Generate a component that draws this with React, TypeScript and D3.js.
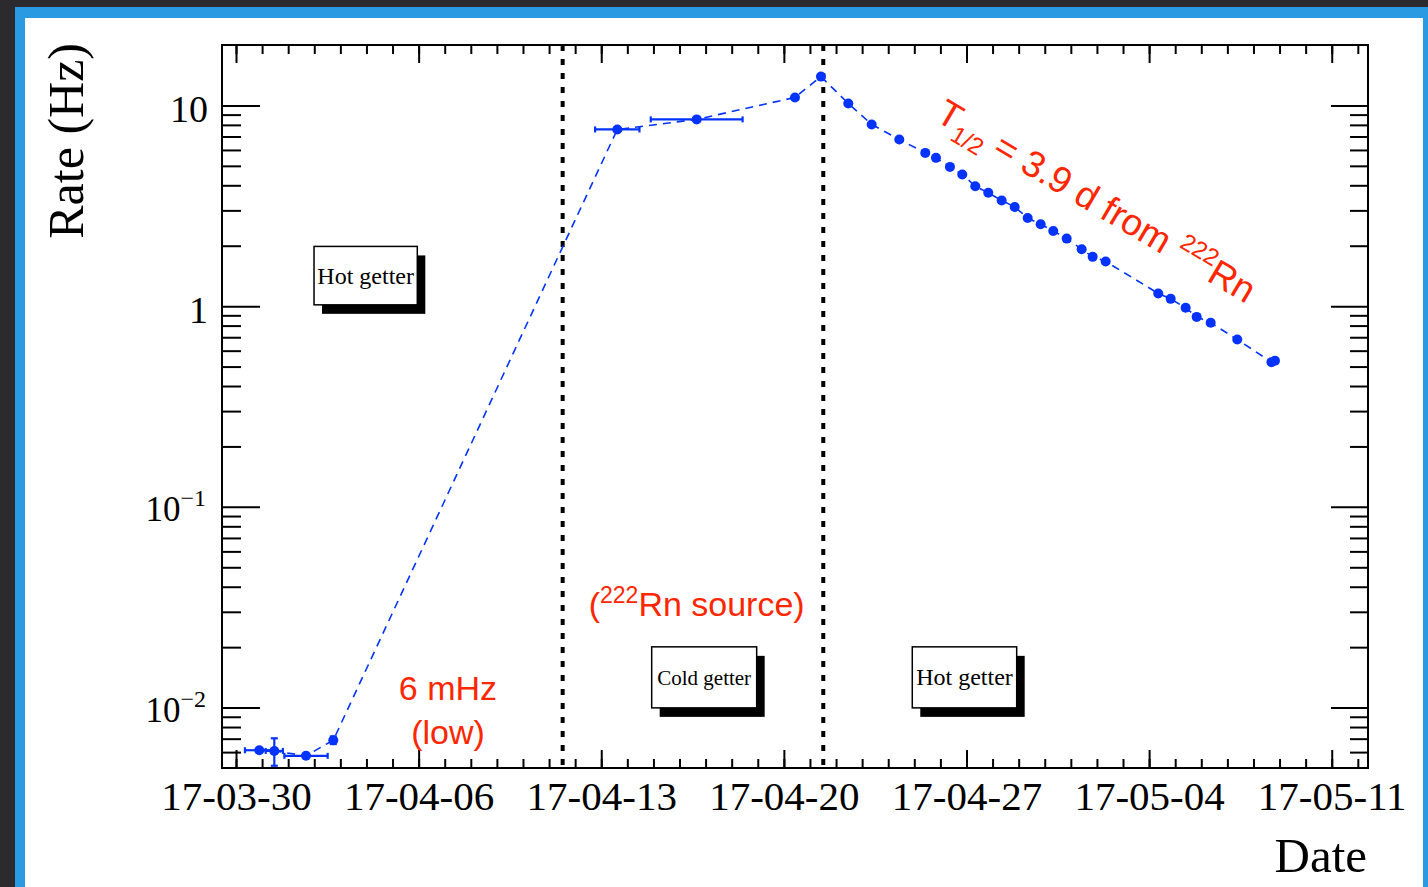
import React, { useEffect, useRef } from 'react';
import * as d3 from 'd3';

const W = 1428;
const H = 887;
const BLUE = '#0433ff';
const RED = '#ff2600';
const SERIF = '"Liberation Serif", "Times New Roman", serif';
const SANS = '"Liberation Sans", Arial, Helvetica, sans-serif';

// low-rate period (hot getter), times in UTC, rates in Hz
const lowTimes = ['2017-03-30T21:26', '2017-03-31T11:14', '2017-04-01T16:24', '2017-04-02T17:30'];
const lowRates = [0.00613, 0.00608, 0.00575, 0.00688];
const lowTimeErr = [0.55, 0.33, 0.83, 0]; // days
const lowRateErr = [0, 0.00095, 0, 0.0003];

// radon source injected (cold getter)
const coldTimes = ['2017-04-13T14:45', '2017-04-16T15:48', '2017-04-20T10:13', '2017-04-21T10:08'];
const coldRates = [7.59, 8.52, 10.96, 13.92];
const coldTimeErr = [0.85, 1.76, 0, 0];

// decay after switching back to hot getter
const decayTimes = [
  '2017-04-22T11:15', '2017-04-23T08:47', '2017-04-24T10:10', '2017-04-25T10:05',
  '2017-04-25T19:55', '2017-04-26T08:48', '2017-04-26T20:07', '2017-04-27T08:05',
  '2017-04-27T20:02', '2017-04-28T08:22', '2017-04-28T20:20', '2017-04-29T08:17',
  '2017-04-29T20:14', '2017-04-30T07:49', '2017-04-30T20:10', '2017-05-01T09:58',
  '2017-05-01T20:04', '2017-05-02T08:02', '2017-05-04T08:25', '2017-05-04T19:50',
  '2017-05-05T09:37', '2017-05-05T19:45', '2017-05-06T08:38', '2017-05-07T09:06',
  '2017-05-08T16:34', '2017-05-08T19:47',
];
const decayRates = [
  10.23, 8.04, 6.77, 5.8, 5.48, 4.94, 4.53, 3.96, 3.67, 3.36, 3.12, 2.75, 2.56,
  2.37, 2.17, 1.92, 1.76, 1.67, 1.157, 1.087, 0.981, 0.884, 0.826, 0.682, 0.526, 0.535,
];

// getter switch times
const boundaryTimes = ['2017-04-11T12:30', '2017-04-21T12:15'];

// axes
const xDomain = ['2017-03-29T11:07', '2017-05-12T09:22'];
const xMajorTicks = ['2017-03-30', '2017-04-06', '2017-04-13', '2017-04-20', '2017-04-27', '2017-05-04', '2017-05-11'];
const yDomain = [0.005, 20];
const yMajorTicks = [0.01, 0.1, 1, 10];
const yTickBase = ['10', '10', '1', '10'];
const yTickExp = ['\u22122', '\u22121', '', ''];

// getter boxes
const boxLabels = ['Hot getter', 'Cold getter', 'Hot getter'];
const boxFrom = ['2017-04-01T23:46', '2017-04-14T22:24', '2017-04-24T22:08'];
const boxTo = ['2017-04-05T22:47', '2017-04-18T22:59', '2017-04-28T22:11'];
const boxTop = [1.984, 0.02007, 0.02007];
const boxBottom = [1.015, 0.009966, 0.009966];
const boxFont = [24, 21, 24];

const parseTime = d3.utcParse('%Y-%m-%dT%H:%M');
const parseDay = d3.utcParse('%Y-%m-%d');
const DAY = 86400000;

type Pt = { t: Date; v: number; te: number; ve: number };

const App = () => {
  const svgRef = useRef<SVGSVGElement>(null);

  useEffect(() => {
    drawChart();
  }, []);

  const drawChart = () => {
    const svg = d3.select(svgRef.current);
    svg.selectAll('*').remove();

    // page background with blue window border
    svg.append('rect').attr('width', W).attr('height', H).attr('fill', '#2b2b2f');
    svg.append('rect').attr('x', 15).attr('y', 7).attr('width', W - 15).attr('height', H - 7).attr('fill', '#2a9be3');
    svg.append('rect').attr('x', 25).attr('y', 18).attr('width', 1398).attr('height', H - 18).attr('fill', '#ffffff');

    const left = 222, right = 1368, top = 45, bottom = 768;

    const x = d3.scaleUtc()
      .domain(xDomain.map(s => parseTime(s) as Date))
      .range([left, right]);
    const y = d3.scaleLog().domain(yDomain).range([bottom, top]);

    const pts: Pt[] = [
      ...lowTimes.map((s, i) => ({ t: parseTime(s) as Date, v: lowRates[i], te: lowTimeErr[i], ve: lowRateErr[i] })),
      ...coldTimes.map((s, i) => ({ t: parseTime(s) as Date, v: coldRates[i], te: coldTimeErr[i], ve: 0 })),
      ...decayTimes.map((s, i) => ({ t: parseTime(s) as Date, v: decayRates[i], te: 0, ve: 0 })),
    ];

    svg.append('defs').append('clipPath').attr('id', 'frame-clip')
      .append('rect').attr('x', left).attr('y', top).attr('width', right - left).attr('height', bottom - top);

    const plot = svg.append('g').attr('clip-path', 'url(#frame-clip)');

    // getter switch lines
    plot.selectAll('line.boundary')
      .data(boundaryTimes)
      .enter()
      .append('line')
      .attr('x1', d => x(parseTime(d) as Date))
      .attr('x2', d => x(parseTime(d) as Date))
      .attr('y1', top)
      .attr('y2', bottom)
      .attr('stroke', '#000')
      .attr('stroke-width', 4)
      .attr('stroke-dasharray', '6,8');

    // dashed connecting line
    const line = d3.line<Pt>().x(d => x(d.t)).y(d => y(d.v));
    plot.append('path')
      .datum(pts)
      .attr('d', line)
      .attr('fill', 'none')
      .attr('stroke', BLUE)
      .attr('stroke-width', 1.6)
      .attr('stroke-dasharray', '8,6');

    // error bars
    const errG = plot.append('g').attr('stroke', BLUE).attr('stroke-width', 2.2);
    pts.filter(d => d.te > 0).forEach(d => {
      const x0 = x(new Date(+d.t - d.te * DAY));
      const x1 = x(new Date(+d.t + d.te * DAY));
      const yy = y(d.v);
      errG.append('line').attr('x1', x0).attr('x2', x1).attr('y1', yy).attr('y2', yy);
      errG.append('line').attr('x1', x0).attr('x2', x0).attr('y1', yy - 3).attr('y2', yy + 3);
      errG.append('line').attr('x1', x1).attr('x2', x1).attr('y1', yy - 3).attr('y2', yy + 3);
    });
    pts.filter(d => d.ve > 0).forEach(d => {
      const xx = x(d.t);
      const y0 = y(d.v - d.ve);
      const y1 = y(d.v + d.ve);
      errG.append('line').attr('x1', xx).attr('x2', xx).attr('y1', y0).attr('y2', y1);
      errG.append('line').attr('x1', xx - 3.5).attr('x2', xx + 3.5).attr('y1', y0).attr('y2', y0);
      errG.append('line').attr('x1', xx - 3.5).attr('x2', xx + 3.5).attr('y1', y1).attr('y2', y1);
    });

    plot.selectAll('circle')
      .data(pts)
      .enter()
      .append('circle')
      .attr('cx', d => x(d.t))
      .attr('cy', d => y(d.v))
      .attr('r', 5)
      .attr('fill', BLUE);

    // axes (ROOT style: ticks inside the frame on all four sides)
    const majorDates = xMajorTicks.map(s => parseDay(s) as Date);
    const minorDates = d3.utcDay.range(x.domain()[0], x.domain()[1]);
    const yMinor: number[] = [];
    for (let e = -3; e <= 1; e++) {
      for (let m = 2; m <= 9; m++) {
        const v = m * Math.pow(10, e);
        if (v > yDomain[0] && v < yDomain[1]) yMinor.push(v);
      }
    }

    const styleAxis = (g: d3.Selection<SVGGElement, unknown, null, undefined>) => {
      g.select('.domain').remove();
      g.selectAll('line').attr('stroke', '#000').attr('stroke-width', 2);
    };

    svg.append('g').attr('transform', `translate(0,${bottom})`)
      .call(d3.axisBottom(x).tickValues(minorDates).tickSize(-9).tickFormat(() => ''))
      .call(styleAxis);
    svg.append('g').attr('transform', `translate(0,${bottom})`)
      .call(d3.axisBottom(x).tickValues(majorDates).tickSize(-18).tickPadding(13)
        .tickFormat(d => d3.utcFormat('%y-%m-%d')(d as Date)))
      .call(styleAxis)
      .call(g => g.selectAll('text')
        .attr('fill', '#000')
        .style('font-family', SERIF)
        .style('font-size', '41px'));

    svg.append('g').attr('transform', `translate(0,${top})`)
      .call(d3.axisTop(x).tickValues(minorDates).tickSize(-9).tickFormat(() => ''))
      .call(styleAxis);
    svg.append('g').attr('transform', `translate(0,${top})`)
      .call(d3.axisTop(x).tickValues(majorDates).tickSize(-18).tickFormat(() => ''))
      .call(styleAxis);

    svg.append('g').attr('transform', `translate(${left},0)`)
      .call(d3.axisLeft(y).tickValues(yMinor).tickSize(-19).tickFormat(() => ''))
      .call(styleAxis);
    svg.append('g').attr('transform', `translate(${left},0)`)
      .call(d3.axisLeft(y).tickValues(yMajorTicks).tickSize(-38).tickFormat(() => ''))
      .call(styleAxis);
    svg.append('g').attr('transform', `translate(${right},0)`)
      .call(d3.axisRight(y).tickValues(yMinor).tickSize(-18).tickFormat(() => ''))
      .call(styleAxis);
    svg.append('g').attr('transform', `translate(${right},0)`)
      .call(d3.axisRight(y).tickValues(yMajorTicks).tickSize(-37).tickFormat(() => ''))
      .call(styleAxis);

    // y tick labels (powers of ten)
    yMajorTicks.forEach((v, i) => {
      const exp = yTickExp[i];
      const t = svg.append('text')
        .attr('text-anchor', 'end')
        .attr('fill', '#000')
        .style('font-family', SERIF);
      if (exp) {
        t.attr('x', 206).attr('y', y(v) + 14).style('font-size', '35px').text(yTickBase[i]);
        t.append('tspan').attr('dy', -15).style('font-size', '24px').text(exp);
      } else {
        t.attr('x', 208).attr('y', y(v) + 17).style('font-size', '38px').text(yTickBase[i]);
      }
    });

    svg.append('rect')
      .attr('x', left).attr('y', top)
      .attr('width', right - left).attr('height', bottom - top)
      .attr('fill', 'none').attr('stroke', '#000').attr('stroke-width', 2);

    // axis titles
    svg.append('text')
      .attr('transform', `translate(83,43) rotate(-90)`)
      .attr('text-anchor', 'end')
      .style('font-family', SERIF)
      .style('font-size', '50px')
      .text('Rate (Hz)');
    svg.append('text')
      .attr('x', 1367).attr('y', 872)
      .attr('text-anchor', 'end')
      .style('font-family', SERIF)
      .style('font-size', '49px')
      .text('Date');

    // getter boxes with shadow
    boxLabels.forEach((label, i) => {
      const x0 = x(parseTime(boxFrom[i]) as Date);
      const x1 = x(parseTime(boxTo[i]) as Date);
      const y0 = y(boxTop[i]);
      const y1 = y(boxBottom[i]);
      svg.append('rect')
        .attr('x', x0 + 8).attr('y', y0 + 9)
        .attr('width', x1 - x0).attr('height', y1 - y0)
        .attr('fill', '#000');
      svg.append('rect')
        .attr('x', x0).attr('y', y0)
        .attr('width', x1 - x0).attr('height', y1 - y0)
        .attr('fill', '#fff').attr('stroke', '#000').attr('stroke-width', 1.5);
      svg.append('text')
        .attr('x', (x0 + x1) / 2).attr('y', (y0 + y1) / 2 + 8)
        .attr('text-anchor', 'middle')
        .style('font-family', SERIF)
        .style('font-size', `${boxFont[i]}px`)
        .text(label);
    });

    // red annotations
    const note = (t: string, v: number, size: number) =>
      svg.append('text')
        .attr('x', x(parseTime(t) as Date))
        .attr('y', y(v))
        .attr('text-anchor', 'middle')
        .attr('fill', RED)
        .style('font-family', SANS)
        .style('font-size', `${size}px`);

    note('2017-04-07T03:00', 0.01089, 34).text('6 mHz');
    note('2017-04-07T03:00', 0.00657, 34).text('(low)');

    const src = note('2017-04-16T15:48', 0.02853, 34);
    src.append('tspan').text('(');
    src.append('tspan').attr('dy', -13).style('font-size', '23px').text('222');
    src.append('tspan').attr('dy', 13).text('Rn source)');

    const hx = x(parseTime('2017-04-25T19:55') as Date);
    const hy = y(8.55);
    const half = svg.append('text')
      .attr('transform', `translate(${hx - 2},${hy + 1}) rotate(30.5)`)
      .attr('fill', RED)
      .style('font-family', SANS)
      .style('font-size', '37px');
    half.append('tspan').text('T');
    half.append('tspan').attr('dy', 9).style('font-size', '24px').text('1/2');
    half.append('tspan').attr('dy', -9).text(' = 3.9 d from ');
    half.append('tspan').attr('dy', -15).style('font-size', '24px').text('222');
    half.append('tspan').attr('dy', 15).text('Rn');
  };

  return <svg ref={svgRef} width={W} height={H} style={{ position: 'absolute', left: 0, top: 0 }}></svg>;
};

export default App;
